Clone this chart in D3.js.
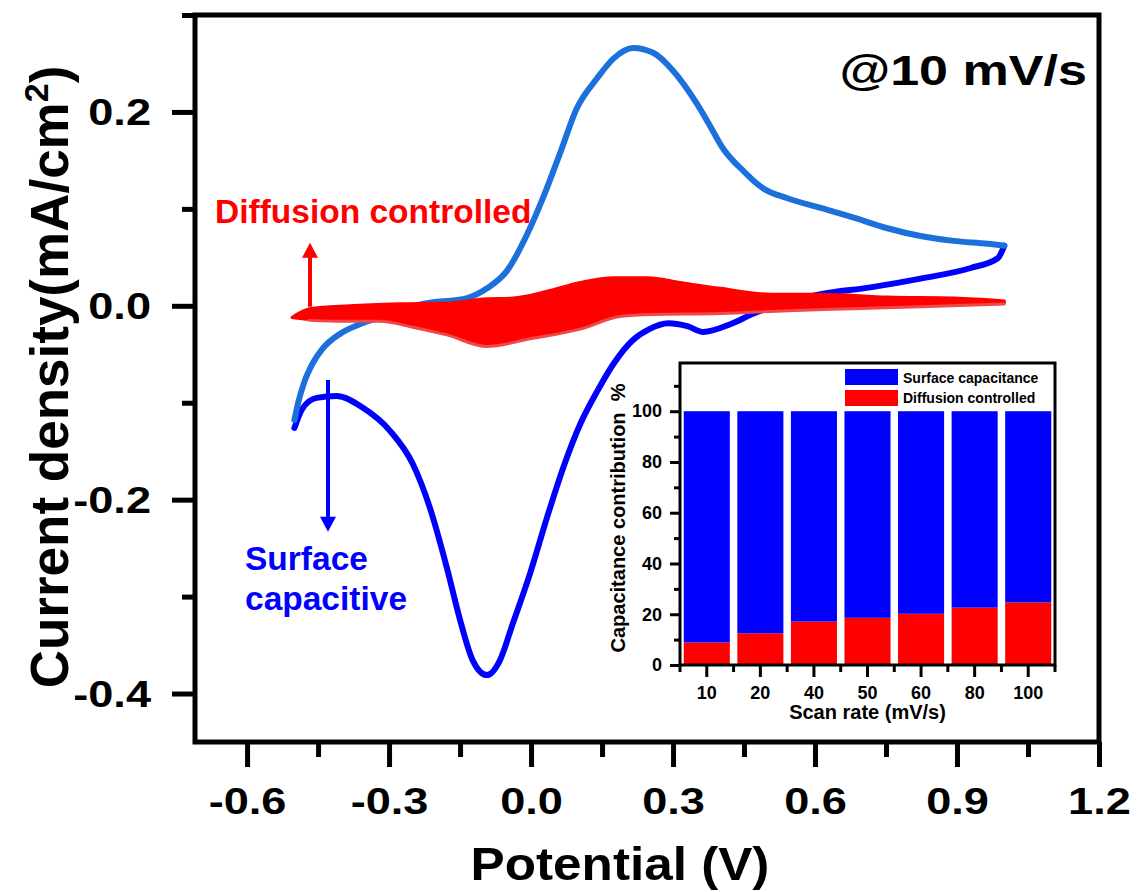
<!DOCTYPE html>
<html><head><meta charset="utf-8">
<script src="https://cdn.jsdelivr.net/npm/d3@7"></script>
<style>body{margin:0;background:#fff}</style>
</head><body>
<svg id="chart" width="1139" height="892"></svg>
<script>
// ---------- data ----------
// anodic sweep (light blue), potential V vs current density mA/cm2
const anodicV = [-0.50,-0.492,-0.480,-0.462,-0.440,-0.404,-0.356,-0.320,-0.229,-0.135,-0.093,-0.051,-0.008,0.025,0.061,0.097,0.140,0.174,0.216,0.258,0.301,0.351,0.380,0.406,0.428,0.449,0.470,0.491,0.542,0.612,0.682,0.753,0.823,0.893,0.965,1.0];
const anodicI = [-0.118,-0.100,-0.080,-0.060,-0.044,-0.029,-0.018,-0.012,0.002,0.008,0.018,0.036,0.074,0.111,0.157,0.204,0.235,0.255,0.266,0.261,0.242,0.208,0.184,0.162,0.149,0.139,0.129,0.121,0.111,0.101,0.091,0.080,0.072,0.067,0.064,0.062];
// cathodic sweep (blue)
const cathodicV = [1.0,0.986,0.929,0.823,0.717,0.612,0.527,0.470,0.421,0.364,0.330,0.290,0.250,0.216,0.174,0.140,0.104,0.068,0.034,-0.002,-0.038,-0.066,-0.093,-0.123,-0.150,-0.178,-0.214,-0.250,-0.298,-0.356,-0.411,-0.453,-0.483,-0.50];
const cathodicI = [0.062,0.049,0.039,0.028,0.019,0.012,0.002,-0.008,-0.019,-0.027,-0.021,-0.018,-0.024,-0.035,-0.060,-0.088,-0.122,-0.167,-0.218,-0.276,-0.327,-0.366,-0.381,-0.366,-0.324,-0.270,-0.208,-0.163,-0.129,-0.105,-0.093,-0.095,-0.106,-0.126];
// diffusion-controlled contribution (red band)
const diffUpV = [-0.505,-0.468,-0.383,-0.277,-0.171,-0.102,-0.038,0.034,0.104,0.174,0.246,0.315,0.400,0.506,0.612,0.753,0.893,1.0];
const diffUpI = [-0.012,-0.003,0.000,0.002,0.003,0.007,0.008,0.015,0.024,0.029,0.029,0.024,0.018,0.012,0.012,0.009,0.008,0.005];
const diffLowV = [1.0,0.823,0.682,0.542,0.400,0.258,0.188,0.104,-0.002,-0.093,-0.178,-0.250,-0.320,-0.390,-0.468,-0.505];
const diffLowI = [0.003,0.000,-0.002,-0.004,-0.007,-0.008,-0.010,-0.023,-0.033,-0.041,-0.029,-0.021,-0.015,-0.015,-0.014,-0.012];

const xTicks = [-0.6,-0.3,0.0,0.3,0.6,0.9,1.2];
const xMinorTicks = [-0.45,-0.15,0.15,0.45,0.75,1.05];
const yTicks = [-0.4,-0.2,0.0,0.2];
const yMinorTicks = [-0.3,-0.1,0.1,0.3];

// inset
const scanRates = ["10","20","40","50","60","80","100"];
const diffusionPct = [8.9,12.5,17.1,18.6,20.2,22.6,24.7];
const surfacePct = [91.1,87.5,82.9,81.4,79.8,77.4,75.3];
const insetYTicks = [0,20,40,60,80,100];
const insetYMinor = [10,30,50,70,90,110];

// ---------- drawing ----------
const FONT = "'Liberation Sans', Arial, Helvetica, sans-serif";
const BLUE = "#0000ff", LBLUE = "#1c70dc", RED = "#ff0000";
const svg = d3.select("#chart");

const x = d3.scaleLinear().domain([-0.71, 1.2]).range([195, 1099]);
const y = d3.scaleLinear().domain([-0.45, 0.3]).range([742, 15]);

const zip = (a, b) => a.map((v, k) => [v, b[k]]);
const line = d3.line().x(d => x(d[0])).y(d => y(d[1])).curve(d3.curveMonotoneX);

// curves
svg.append("path").attr("d", line(zip(cathodicV, cathodicI)))
  .attr("fill", "none").attr("stroke", BLUE).attr("stroke-width", 6)
  .attr("stroke-linecap", "round").attr("stroke-linejoin", "round");
svg.append("path").attr("d", line(zip(anodicV, anodicI)))
  .attr("fill", "none").attr("stroke", LBLUE).attr("stroke-width", 6)
  .attr("stroke-linecap", "round").attr("stroke-linejoin", "round");

const upperPath = line(zip(diffUpV, diffUpI));
const lowerPath = line(zip(diffLowV, diffLowI));
svg.append("path").attr("d", upperPath + lowerPath.replace(/^M/, "L") + "Z")
  .attr("fill", RED).attr("stroke", RED).attr("stroke-width", 3)
  .attr("stroke-linejoin", "round");
svg.append("path").attr("d", line(zip(diffLowV, diffLowI).slice(0, -1)))
  .attr("fill", "none").attr("stroke", "#f04848").attr("stroke-width", 3)
  .attr("stroke-linecap", "round").attr("transform", "translate(0,1)");

// frame
const [x0, x1] = x.range(), [yb, yt] = y.range();
svg.append("rect").attr("x", x0).attr("y", yt).attr("width", x1 - x0).attr("height", yb - yt)
  .attr("fill", "none").attr("stroke", "#000").attr("stroke-width", 5);

const SX = 1.22;
function styleAxis(g, w) {
  g.selectAll(".domain").remove();
  g.selectAll("line").attr("stroke", "#000").attr("stroke-width", w);
}
// x axis
const gxMinor = svg.append("g").attr("transform", `translate(0,${yb})`)
  .call(d3.axisBottom(x).tickValues(xMinorTicks).tickSize(15).tickFormat(""));
const gx = svg.append("g").attr("transform", `translate(0,${yb})`)
  .call(d3.axisBottom(x).tickValues(xTicks).tickSize(25).tickPadding(21).tickFormat(d => d.toFixed(1)));
styleAxis(gxMinor, 5); styleAxis(gx, 5);
gx.selectAll("text").attr("font-family", FONT).attr("font-weight", "bold").attr("font-size", 37)
  .attr("fill", "#000").attr("transform", `scale(${SX},1)`);

// y axis
const gyMinor = svg.append("g").attr("transform", `translate(${x0},0)`)
  .call(d3.axisLeft(y).tickValues(yMinorTicks).tickSize(13).tickFormat(""));
const gy = svg.append("g").attr("transform", `translate(${x0},0)`)
  .call(d3.axisLeft(y).tickValues(yTicks).tickSize(23).tickPadding(21).tickFormat(d => d.toFixed(1)));
styleAxis(gyMinor, 5); styleAxis(gy, 5);
gy.selectAll("text").attr("font-family", FONT).attr("font-weight", "bold").attr("font-size", 37)
  .attr("fill", "#000").attr("x", -44 / SX).attr("dy", "0.34em").attr("transform", `scale(${SX},1)`);

// axis titles
svg.append("text").attr("transform", "translate(620,880) scale(1.09,1)")
  .attr("text-anchor", "middle").attr("font-family", FONT).attr("font-weight", "bold")
  .attr("font-size", 47).text("Potential (V)");
const yt1 = svg.append("text").attr("transform", "translate(68,377) rotate(-90)")
  .attr("text-anchor", "middle").attr("font-family", FONT).attr("font-weight", "bold")
  .attr("font-size", 53);
yt1.append("tspan").text("Current density(mA/cm");
yt1.append("tspan").attr("font-size", 34).attr("dy", -20).text("2");
yt1.append("tspan").attr("dy", 20).text(")");

svg.append("text").attr("transform", "translate(1087,85) scale(1.24,1)")
  .attr("text-anchor", "end").attr("font-family", FONT).attr("font-weight", "bold")
  .attr("font-size", 42).text("@10 mV/s");

// annotations
svg.append("text").attr("x", 215).attr("y", 223).attr("fill", RED)
  .attr("font-family", FONT).attr("font-weight", "bold").attr("font-size", 33.5).text("Diffusion controlled");
svg.append("text").attr("x", 245).attr("y", 570).attr("fill", BLUE)
  .attr("font-family", FONT).attr("font-weight", "bold").attr("font-size", 33.5).text("Surface");
svg.append("text").attr("x", 245).attr("y", 610).attr("fill", BLUE)
  .attr("font-family", FONT).attr("font-weight", "bold").attr("font-size", 33.5).text("capacitive");

function arrow(v, iFrom, iTo, color, w) {
  const ax = x(v), ya = y(iFrom), yb2 = y(iTo);
  const dir = Math.sign(yb2 - ya), head = 15, hw = 8;
  svg.append("line").attr("x1", ax).attr("x2", ax).attr("y1", ya).attr("y2", yb2 - dir * head + dir)
    .attr("stroke", color).attr("stroke-width", w);
  svg.append("path").attr("d", `M${ax - hw},${yb2 - dir * head}L${ax + hw},${yb2 - dir * head}L${ax},${yb2}Z`)
    .attr("fill", color);
}
arrow(-0.467, -0.001, 0.065, RED, 4);
arrow(-0.429, -0.0765, -0.233, BLUE, 4);

// ---------- inset ----------
const ix = d3.scaleBand().domain(scanRates).range([680, 1055]).paddingInner(0.14).paddingOuter(0.07);
const iy = d3.scaleLinear().domain([0, 119]).range([665, 363]);
const table = scanRates.map((s, k) => ({ rate: s, diffusion: diffusionPct[k], surface: surfacePct[k] }));
const stacked = d3.stack().keys(["diffusion", "surface"])(table);
const colors = { diffusion: RED, surface: BLUE };
const gi = svg.append("g");
gi.selectAll("g.layer").data(stacked).join("g").attr("class", "layer").attr("fill", d => colors[d.key])
  .selectAll("rect").data(d => d).join("rect")
  .attr("x", d => ix(d.data.rate)).attr("width", ix.bandwidth())
  .attr("y", d => iy(d[1])).attr("height", d => iy(d[0]) - iy(d[1]));

const [ix0, ix1] = ix.range(), [iyb, iyt] = iy.range();
gi.append("rect").attr("x", ix0).attr("y", iyt).attr("width", ix1 - ix0).attr("height", iyb - iyt)
  .attr("fill", "none").attr("stroke", "#000").attr("stroke-width", 3);

const gix = gi.append("g").attr("transform", `translate(0,${iyb})`)
  .call(d3.axisBottom(ix).tickSize(12).tickPadding(9));
const boundaries = scanRates.map(s => ix(s) - (ix.step() - ix.bandwidth()) / 2).concat([ix1]);
const gixMinor = gi.append("g").attr("transform", `translate(0,${iyb})`);
gixMinor.selectAll("line").data(boundaries).join("line")
  .attr("x1", d => d).attr("x2", d => d).attr("y1", 0).attr("y2", 7);
const giyMinor = gi.append("g").attr("transform", `translate(${ix0},0)`)
  .call(d3.axisLeft(iy).tickValues(insetYMinor).tickSize(6).tickFormat(""));
const giy = gi.append("g").attr("transform", `translate(${ix0},0)`)
  .call(d3.axisLeft(iy).tickValues(insetYTicks).tickSize(10).tickPadding(8));
[gix, gixMinor, giy, giyMinor].forEach(g => {
  styleAxis(g, 3);
  g.selectAll("text").attr("font-family", FONT).attr("font-weight", "bold").attr("font-size", 18).attr("fill", "#000");
});

gi.append("text").attr("transform", "translate(625,518) rotate(-90)").attr("text-anchor", "middle")
  .attr("font-family", FONT).attr("font-weight", "bold").attr("font-size", 20)
  .style("white-space", "pre").text("Capacitance contribution  %");
gi.append("text").attr("x", (ix0 + ix1) / 2).attr("y", 719).attr("text-anchor", "middle")
  .attr("font-family", FONT).attr("font-weight", "bold").attr("font-size", 20).text("Scan rate (mV/s)");

// legend
const legend = [["Surface capacitance", BLUE], ["Diffusion controlled", RED]];
legend.forEach(([label, col], k) => {
  gi.append("rect").attr("x", 845).attr("y", 369 + k * 21).attr("width", 53).attr("height", 16).attr("fill", col);
  gi.append("text").attr("x", 903).attr("y", 383 + k * 20).attr("font-family", FONT)
    .attr("font-weight", "bold").attr("font-size", 14).text(label);
});
</script>
</body></html>
